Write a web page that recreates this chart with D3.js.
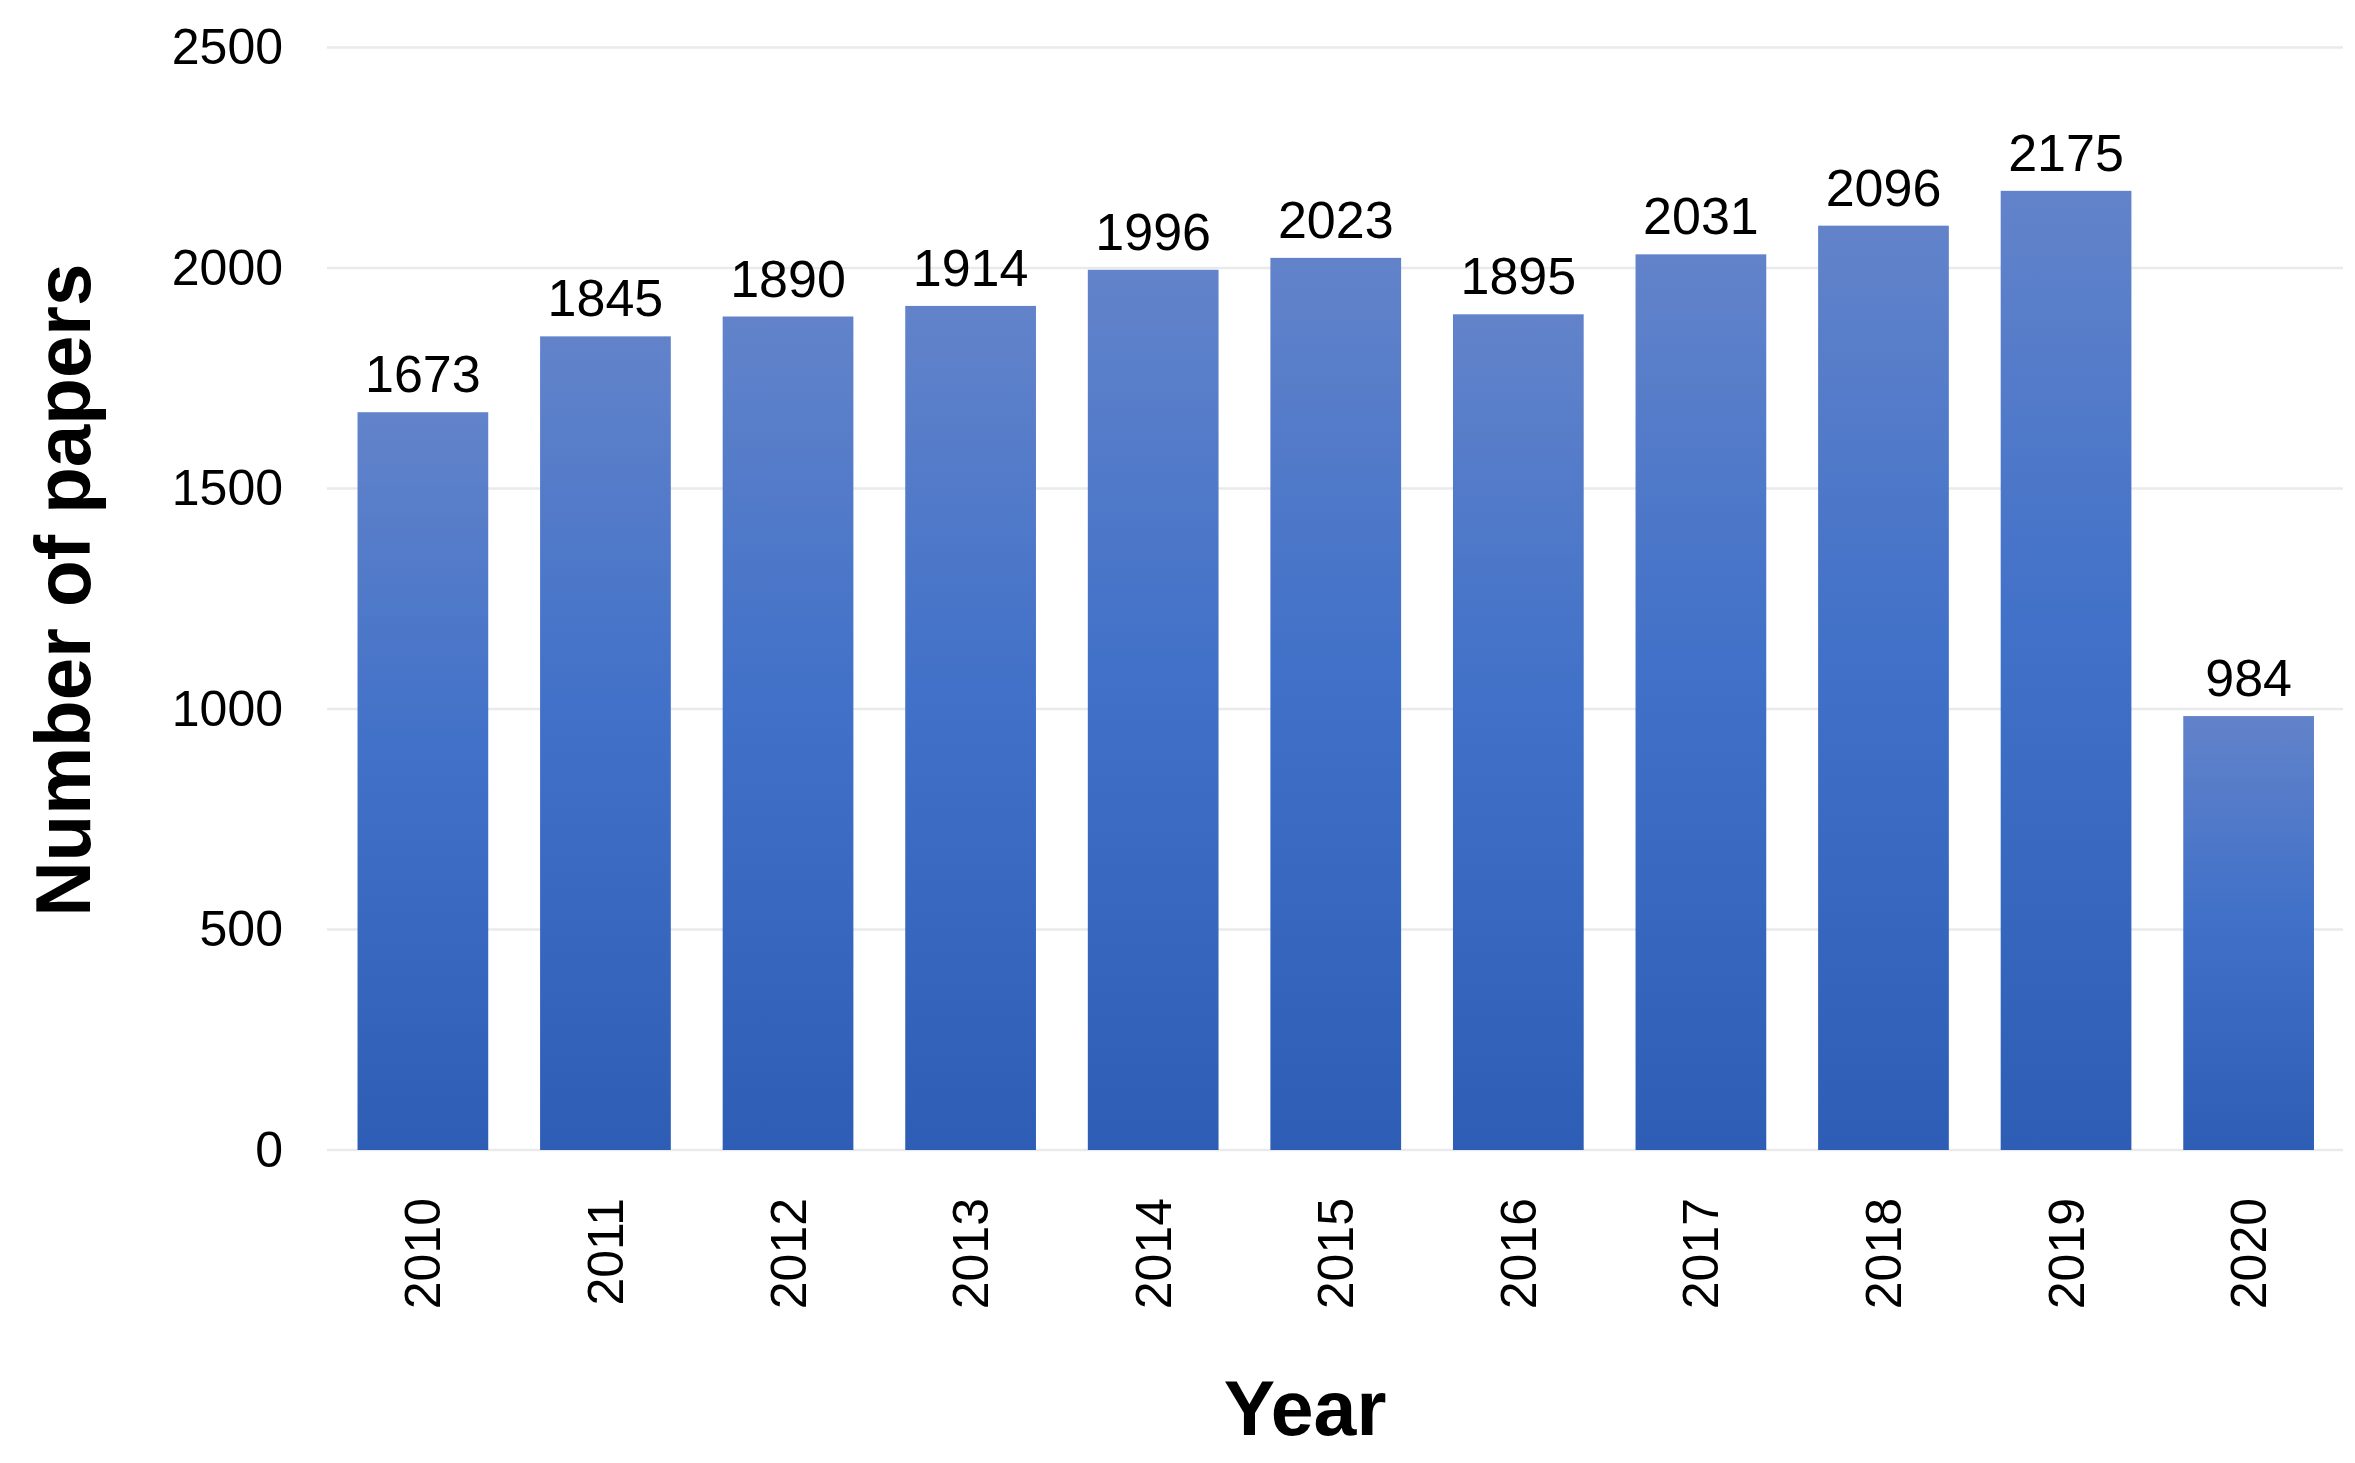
<!DOCTYPE html>
<html>
<head>
<meta charset="utf-8">
<script src="https://cdn.jsdelivr.net/npm/d3@7"></script>
<style>
  html, body { margin: 0; padding: 0; background: #fff; }
  svg { display: block; }
  text { font-family: "Liberation Sans", Arial, sans-serif; fill: #000; }
</style>
</head>
<body>
<svg id="chart" width="2355" height="1463"></svg>
<script>
const years = ["2010","2011","2012","2013","2014","2015","2016","2017","2018","2019","2020"];
const papers = [1673, 1845, 1890, 1914, 1996, 2023, 1895, 2031, 2096, 2175, 984];
const yTicks = [0, 500, 1000, 1500, 2000, 2500];
const xTitle = "Year";
const yTitle = "Number of papers";

const svg = d3.select("#chart");

const x = d3.scaleBand()
  .domain(years)
  .range([331.5, 2340])
  .paddingInner(0.284)
  .paddingOuter(0.1425);

const y = d3.scaleLinear()
  .domain([0, 2500])
  .range([1150, 47.5]);

const defs = svg.append("defs");
const grad = defs.append("linearGradient")
  .attr("id", "barGrad")
  .attr("x1", 0).attr("y1", 0).attr("x2", 0).attr("y2", 1);
grad.append("stop").attr("offset", "0%").attr("stop-color", "#6283CA");
grad.append("stop").attr("offset", "45%").attr("stop-color", "#4171C8");
grad.append("stop").attr("offset", "100%").attr("stop-color", "#2E5DB6");

// gridlines
svg.append("g")
  .selectAll("line")
  .data(yTicks)
  .join("line")
  .attr("x1", 327)
  .attr("x2", 2343)
  .attr("y1", d => y(d))
  .attr("y2", d => y(d))
  .attr("stroke", "#E9EAEC")
  .attr("stroke-width", 2.5);

// y axis labels
const yAxis = d3.axisLeft(y).tickValues(yTicks).tickFormat(d3.format("d")).tickSize(0).tickPadding(0);
const gy = svg.append("g").attr("transform", "translate(283,0)").call(yAxis);
gy.select(".domain").remove();
gy.selectAll("text")
  .attr("font-size", 50)
  .attr("fill", "#000")
  .style("font-family", '"Liberation Sans", Arial, sans-serif');

// bars
svg.append("g")
  .selectAll("rect")
  .data(years)
  .join("rect")
  .attr("x", d => x(d))
  .attr("width", x.bandwidth())
  .attr("y", (d, i) => y(papers[i]))
  .attr("height", (d, i) => y(0) - y(papers[i]))
  .attr("fill", "url(#barGrad)");

// value labels
svg.append("g")
  .selectAll("text")
  .data(years)
  .join("text")
  .attr("x", d => x(d) + x.bandwidth() / 2)
  .attr("y", (d, i) => y(papers[i]) - 20)
  .attr("text-anchor", "middle")
  .attr("font-size", 52)
  .text((d, i) => papers[i]);

// x axis labels (rotated)
const xAxis = d3.axisBottom(x).tickSize(0).tickPadding(0);
const gx = svg.append("g").attr("transform", "translate(0,1198)").call(xAxis);
gx.select(".domain").remove();
gx.selectAll("text")
  .attr("font-size", 50)
  .attr("fill", "#000")
  .style("font-family", '"Liberation Sans", Arial, sans-serif')
  .attr("transform", "rotate(-90)")
  .attr("text-anchor", "end")
  .attr("x", 0)
  .attr("y", 0)
  .attr("dy", "0.35em");

// axis titles
svg.append("text")
  .attr("x", 1305)
  .attr("y", 1435)
  .attr("text-anchor", "middle")
  .attr("font-size", 77)
  .attr("font-weight", "bold")
  .text(xTitle);

svg.append("text")
  .attr("transform", "translate(90,590) rotate(-90)")
  .attr("text-anchor", "middle")
  .attr("font-size", 77)
  .attr("font-weight", "bold")
  .attr("textLength", 653)
  .attr("lengthAdjust", "spacingAndGlyphs")
  .text(yTitle);
</script>
</body>
</html>
